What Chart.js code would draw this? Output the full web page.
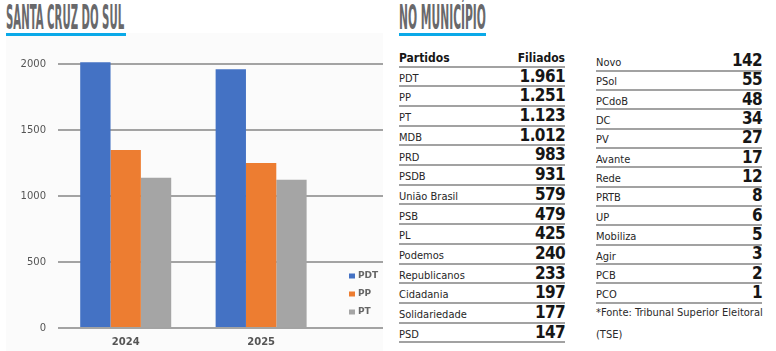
<!DOCTYPE html>
<html>
<head>
<meta charset="utf-8">
<script src="https://cdn.jsdelivr.net/npm/chart.js@4"></script>
<style>
  html, body { margin: 0; padding: 0; background: #fff; }
  body { width: 776px; height: 351px; position: relative; overflow: hidden;
         font-family: "DejaVu Sans Condensed", "DejaVu Sans", sans-serif; font-stretch: condensed; }
  .titulo { position: absolute; top: 1px; font-size: 33px; font-weight: bold; color: #69696b;
            white-space: nowrap; transform-origin: 0 0; line-height: 1; }
  .risco { position: absolute; top: 32.5px; height: 3px; background: #0aa9e8; }
  #painel { position: absolute; left: 6px; top: 33px; width: 377px; height: 318px; background: #fbfbfb; }
  #grafico { position: absolute; left: 0; top: 36px; }
  .linha { position: absolute; height: 17px; border-bottom: 2.6px solid #a2a2a2; }
  .nome { position: absolute; left: 0; bottom: 1.5px; font-size: 11px; line-height: 1; color: #262626; white-space: nowrap; }
  .valor { position: absolute; right: 0; bottom: 0.6px; font-size: 17px; line-height: 1; font-weight: bold;
           color: #161616; letter-spacing: -0.6px; }
  .cab { font-size: 12px; font-weight: bold; color: #161616; bottom: 2px; }
  .nota { position: absolute; left: 596px; font-size: 11px; color: #2a2a2a; white-space: nowrap; line-height: 1; }
</style>
</head>
<body>
<div id="painel"></div>
<div class="titulo" id="t1" style="left:6px">SANTA CRUZ DO SUL</div>
<div class="risco" style="left:6px; width:120px"></div>
<div class="titulo" id="t2" style="left:399px">NO MUNICÍPIO</div>
<div class="risco" style="left:399px; width:87px"></div>
<canvas id="grafico" width="385" height="320"></canvas>
<div id="tabela"></div>
<div class="nota" style="top:307px">*Fonte: Tribunal Superior Eleitoral</div>
<div class="nota" style="top:329px">(TSE)</div>

<script>
// dados do grafico
const anos = [2024, 2025];
const series = ['PDT', 'PP', 'PT'];
const pdt = [2014, 1961];
const pp = [1348, 1251];
const pt = [1139, 1123];
const cores = ['#4472c4', '#ed7d31', '#a5a5a5'];
const yTicks = [0, 500, 1000, 1500, 2000];

// dados da tabela
const partidos = ['PDT', 'PP', 'PT', 'MDB', 'PRD', 'PSDB', 'União Brasil', 'PSB', 'PL', 'Podemos',
  'Republicanos', 'Cidadania', 'Solidariedade', 'PSD',
  'Novo', 'PSol', 'PCdoB', 'DC', 'PV', 'Avante', 'Rede', 'PRTB', 'UP', 'Mobiliza', 'Agir', 'PCB', 'PCO'];
const filiados = [1961, 1251, 1123, 1012, 983, 931, 579, 479, 425, 240, 233, 197, 177, 147,
  142, 55, 48, 34, 27, 17, 12, 8, 6, 5, 3, 2, 1];

// squeeze the titles to the condensed look
function ajusta(id, largura) {
  const el = document.getElementById(id);
  el.style.transform = 'scaleX(' + (largura / el.offsetWidth) + ')';
}
ajusta('t1', 118);
ajusta('t2', 87);

function formata(n) {
  return String(n).replace(/\B(?=(\d{3})+(?!\d))/g, '.');
}

const tabela = document.getElementById('tabela');
function linha(x, yLinha, nome, valor, cab) {
  const div = document.createElement('div');
  div.className = 'linha';
  div.style.left = x + 'px';
  div.style.width = '166px';
  div.style.top = (yLinha - 17) + 'px';
  const a = document.createElement('span');
  a.className = 'nome' + (cab ? ' cab' : '');
  a.textContent = nome;
  const b = document.createElement('span');
  b.className = cab ? 'nome cab' : 'valor';
  if (cab) { b.style.left = 'auto'; b.style.right = '0'; }
  b.textContent = valor;
  div.appendChild(a);
  div.appendChild(b);
  tabela.appendChild(div);
}

linha(399, 65.5, 'Partidos', 'Filiados', true);
for (let i = 0; i < 14; i++) {
  linha(399, 65.5 + (i + 1) * 19.7, partidos[i], formata(filiados[i]), false);
}
for (let i = 14; i < partidos.length; i++) {
  linha(596, 69.5 + (i - 14) * 19.35, partidos[i], formata(filiados[i]), false);
}

// legenda desenhada dentro da area do grafico
const legendaPlugin = {
  id: 'legendaInterna',
  afterDraw(chart) {
    const ctx = chart.ctx;
    const area = chart.chartArea;
    ctx.save();
    ctx.font = 'bold 9px "DejaVu Sans"';
    ctx.textBaseline = 'middle';
    chart.data.datasets.forEach((ds, i) => {
      const y = area.bottom - 52 + i * 18;
      ctx.fillStyle = ds.backgroundColor;
      ctx.fillRect(area.right - 34, y - 2.5, 6, 5);
      ctx.fillStyle = '#666';
      ctx.fillText(ds.label, area.right - 25, y);
    });
    ctx.restore();
  }
};

Chart.defaults.font.family = '"DejaVu Sans", sans-serif';
Chart.defaults.animation = false;

new Chart(document.getElementById('grafico'), {
  type: 'bar',
  data: {
    labels: anos,
    datasets: [
      { label: series[0], data: pdt, backgroundColor: cores[0] },
      { label: series[1], data: pp, backgroundColor: cores[1] },
      { label: series[2], data: pt, backgroundColor: cores[2] }
    ]
  },
  options: {
    responsive: false,
    layout: { padding: { top: 12, right: 2, bottom: 0, left: 0 } },
    categoryPercentage: 0.672,
    barPercentage: 1,
    plugins: { legend: { display: false }, tooltip: { enabled: false } },
    scales: {
      x: {
        type: 'linear',
        min: 2023.5,
        max: 2025.9,
        offset: false,
        grid: { display: false, drawTicks: false },
        border: { display: false },
        afterBuildTicks(scale) { scale.ticks = anos.map(v => ({ value: v })); },
        ticks: {
          padding: 8,
          color: '#555',
          font: { size: 10, weight: 'bold' },
          callback: v => String(v)
        }
      },
      y: {
        min: 0,
        max: 2076,
        afterBuildTicks(scale) { scale.ticks = yTicks.map(v => ({ value: v })); },
        afterFit(scale) { scale.width = 58; },
        grid: { color: '#a3a3a3', lineWidth: 2, drawTicks: false },
        border: { display: false },
        ticks: { padding: 12, color: '#555', font: { size: 10 }, callback: v => String(v) }
      }
    }
  },
  plugins: [legendaPlugin]
});
</script>
</body>
</html>
